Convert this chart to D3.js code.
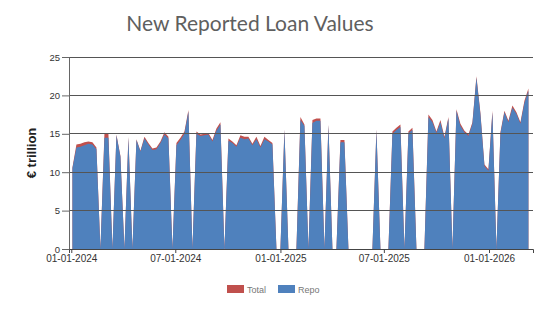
<!DOCTYPE html>
<meta charset="utf-8">
<head>
  <script src="https://d3js.org/d3.v7.min.js"></script>
  <style>
    body { margin: 0; background: #fff; }
    #my_dataviz text { font-family: Arial, "Liberation Sans", sans-serif; }
  </style>
</head>
<body>
<div id="my_dataviz"></div>
<script>
// weekly observations, first one on 3 Jan 2024
var firstDate = new Date(2024, 0, 3);

var repo = [
  10.5, 13.2, 13.3, 13.5, 13.7, 13.6, 13.0, 0, 14.5, 14.5,
  0, 14.8, 12.0, 0, 14.5, 0, 14.2, 12.7, 14.4, 13.6,
  12.9, 13.0, 13.8, 14.9, 14.4, 0, 13.5, 14.2, 15.0, 17.9,
  0, 15.0, 14.7, 14.8, 14.9, 14.0, 15.4, 16.2, 0, 14.1,
  13.8, 13.3, 14.5, 14.3, 14.4, 13.5, 14.3, 13.2, 14.3, 14.0,
  13.6, 0, 0, 15.5, 0, 0, 0, 16.8, 16.0, 0,
  16.4, 16.7, 16.7, 0, 16.1, 0, 0, 13.9, 13.9, 0,
  0, 0, 0, 0, 0, 0, 15.5, 0, 0, 0,
  15.0, 15.5, 15.9, 0, 15.1, 15.5, 0, 0, 0, 17.2,
  16.5, 15.1, 16.5, 14.4, 17.0, 0, 18.0, 16.0, 15.2, 14.7,
  16.3, 22.3, 17.5, 10.8, 10.2, 17.8, 0, 15.0, 17.8, 16.5,
  18.4, 17.6, 16.3, 19.0, 20.6
];

var total = [
  10.6, 13.6, 13.7, 13.9, 14.0, 13.9, 13.2, 0, 15.0, 15.0,
  0, 14.9, 12.1, 0, 14.6, 0, 14.3, 12.8, 14.6, 13.8,
  13.1, 13.2, 14.0, 15.2, 14.6, 0, 13.8, 14.5, 15.3, 18.1,
  0, 15.3, 14.9, 15.0, 15.1, 14.2, 15.7, 16.5, 0, 14.4,
  14.0, 13.5, 14.8, 14.6, 14.6, 13.7, 14.6, 13.4, 14.6, 14.2,
  13.8, 0, 0, 15.6, 0, 0, 0, 17.2, 16.2, 0,
  16.8, 17.0, 17.0, 0, 16.2, 0, 0, 14.2, 14.2, 0,
  0, 0, 0, 0, 0, 0, 15.6, 0, 0, 0,
  15.3, 15.8, 16.2, 0, 15.3, 15.8, 0, 0, 0, 17.5,
  16.8, 15.3, 16.8, 14.6, 17.2, 0, 18.2, 16.3, 15.4, 14.9,
  16.5, 22.5, 17.7, 11.0, 10.4, 18.0, 0, 15.2, 18.0, 16.7,
  18.7, 17.8, 16.5, 19.3, 20.9
];

var yTicks = [0, 5, 10, 15, 20, 25];
var xTicks = [new Date(2024, 0, 1), new Date(2024, 6, 1), new Date(2025, 0, 1),
              new Date(2025, 6, 1), new Date(2026, 0, 1)];
var seriesNames = ["Total", "Repo"];
var seriesColors = ["#c0504d", "#4f81bd"];

var dates = repo.map(function(d, i) { return d3.timeDay.offset(firstDate, 7 * i); });

var W = 550, H = 309;
var svg = d3.select("#my_dataviz")
  .append("svg")
    .attr("width", W)
    .attr("height", H);

var x = d3.scaleTime()
  .domain([new Date(2023, 11, 28), new Date(2026, 2, 19)])
  .range([69, 533]);
var y = d3.scaleLinear()
  .domain([0, 25])
  .range([249, 57]);

// title
svg.append("text")
  .attr("x", 250).attr("y", 31)
  .attr("text-anchor", "middle")
  .style("font-family", "Lato, 'Open Sans', sans-serif")
  .style("font-size", "21px")
  .style("fill", "#5f5f5f")
  .text("New Reported Loan Values");

// y label
svg.append("text")
  .attr("transform", "translate(36,153)rotate(-90)")
  .attr("text-anchor", "middle")
  .style("font-size", "13px")
  .style("font-weight", "bold")
  .style("fill", "#222")
  .text("€ trillion");

// areas
var area = function(vals) {
  return d3.area()
    .x(function(d, i) { return x(dates[i]); })
    .y0(y(0))
    .y1(function(d) { return y(d); })(vals);
};
svg.append("path").attr("d", area(total)).attr("fill", seriesColors[0]);
svg.append("path").attr("d", area(repo)).attr("fill", seriesColors[1]);

// grid lines (drawn over the areas)
svg.append("g")
  .selectAll("line")
  .data(yTicks.filter(function(t) { return t > 0; }))
  .enter().append("line")
    .attr("x1", 69).attr("x2", 533)
    .attr("y1", function(d) { return y(d); })
    .attr("y2", function(d) { return y(d); })
    .attr("stroke", "#555")
    .attr("stroke-width", 1)
    .attr("shape-rendering", "crispEdges");

// y axis
var yAxis = svg.append("g")
  .attr("transform", "translate(69,0)")
  .call(d3.axisLeft(y).tickValues(yTicks).tickSize(7).tickPadding(2));
yAxis.select(".domain").attr("stroke", "#666");
yAxis.selectAll(".tick line").attr("stroke", "#666");
yAxis.selectAll("text").style("font-size", "9.5px").style("fill", "#333");

// x axis
var xAxis = svg.append("g")
  .attr("transform", "translate(0,249)")
  .call(d3.axisBottom(x).tickValues(xTicks).tickSize(4).tickPadding(2)
    .tickFormat(d3.timeFormat("%m-%d-%Y")));
xAxis.select(".domain").attr("stroke", "#444");
xAxis.selectAll(".tick line").attr("stroke", "#444");
xAxis.selectAll("text").style("font-size", "10px").style("fill", "#333");

// legend
var legend = svg.append("g").attr("transform", "translate(227,285)");
var items = legend.selectAll("g")
  .data(seriesNames)
  .enter().append("g")
    .attr("transform", function(d, i) { return "translate(" + (i * 51) + ",0)"; });
items.append("rect")
  .attr("width", 17).attr("height", 8)
  .attr("fill", function(d, i) { return seriesColors[i]; });
items.append("text")
  .attr("x", 20).attr("y", 8)
  .style("font-size", "9px")
  .style("fill", "#777")
  .text(function(d) { return d; });
</script>
</body>
